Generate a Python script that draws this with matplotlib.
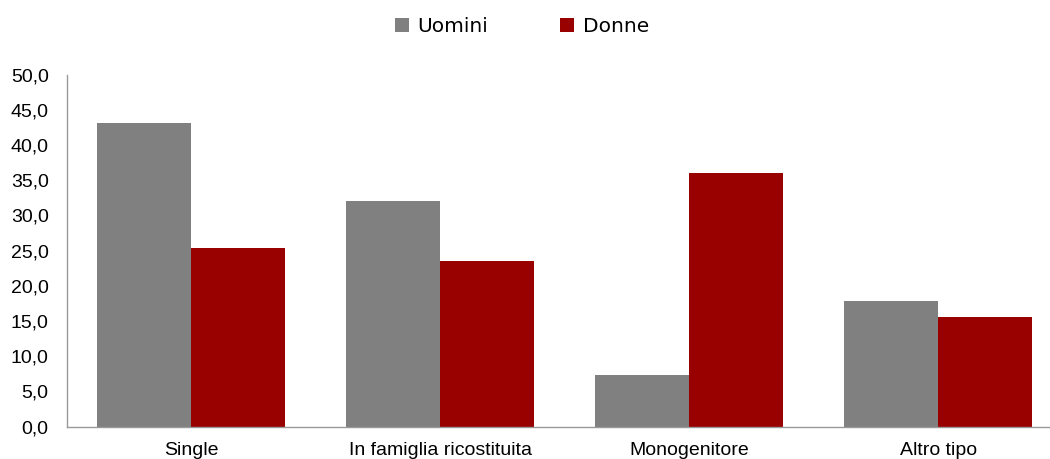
import numpy as np
import matplotlib.pyplot as plt
from matplotlib.ticker import FuncFormatter

# dati
categorie = ['Single', 'In famiglia ricostituita', 'Monogenitore', 'Altro tipo']
uomini = [43.1, 32.0, 7.4, 17.9]
donne = [25.4, 23.5, 36.0, 15.6]

plt.rcParams['font.family'] = ['Liberation Sans', 'DejaVu Sans']

fig = plt.figure(figsize=(10.5, 4.59), dpi=100)
ax = fig.add_axes([0.0635, 0.0705, 0.9486, 0.767])

x = np.arange(len(categorie))
w = 0.378
ax.bar(x - w / 2, uomini, w, color='#808080', label='Uomini')
ax.bar(x + w / 2, donne, w, color='#990000', label='Donne')

ax.set_xlim(-0.5, 3.5)
ax.set_ylim(0, 50)
ax.set_yticks(np.arange(0, 51, 5))
ax.yaxis.set_major_formatter(FuncFormatter(lambda v, p: f'{v:.1f}'.replace('.', ',')))
ax.set_xticks(x)
ax.set_xticklabels(categorie)
ax.tick_params(axis='both', length=0, labelsize=14, colors='#000000')
ax.tick_params(axis='x', pad=11)
ax.tick_params(axis='y', pad=13)

for s in ['top', 'right']:
    ax.spines[s].set_visible(False)
for s in ['left', 'bottom']:
    ax.spines[s].set_color('#999999')
    ax.spines[s].set_linewidth(1.0)

leg = fig.legend(loc='center', bbox_to_anchor=(0.497, 0.942), ncol=2, frameon=False,
                 handlelength=0.7, handleheight=0.7, handletextpad=0.4,
                 columnspacing=3.6, prop={'family': ['DejaVu Sans'], 'size': 14.5})

fig.savefig('out.png', dpi=100)
